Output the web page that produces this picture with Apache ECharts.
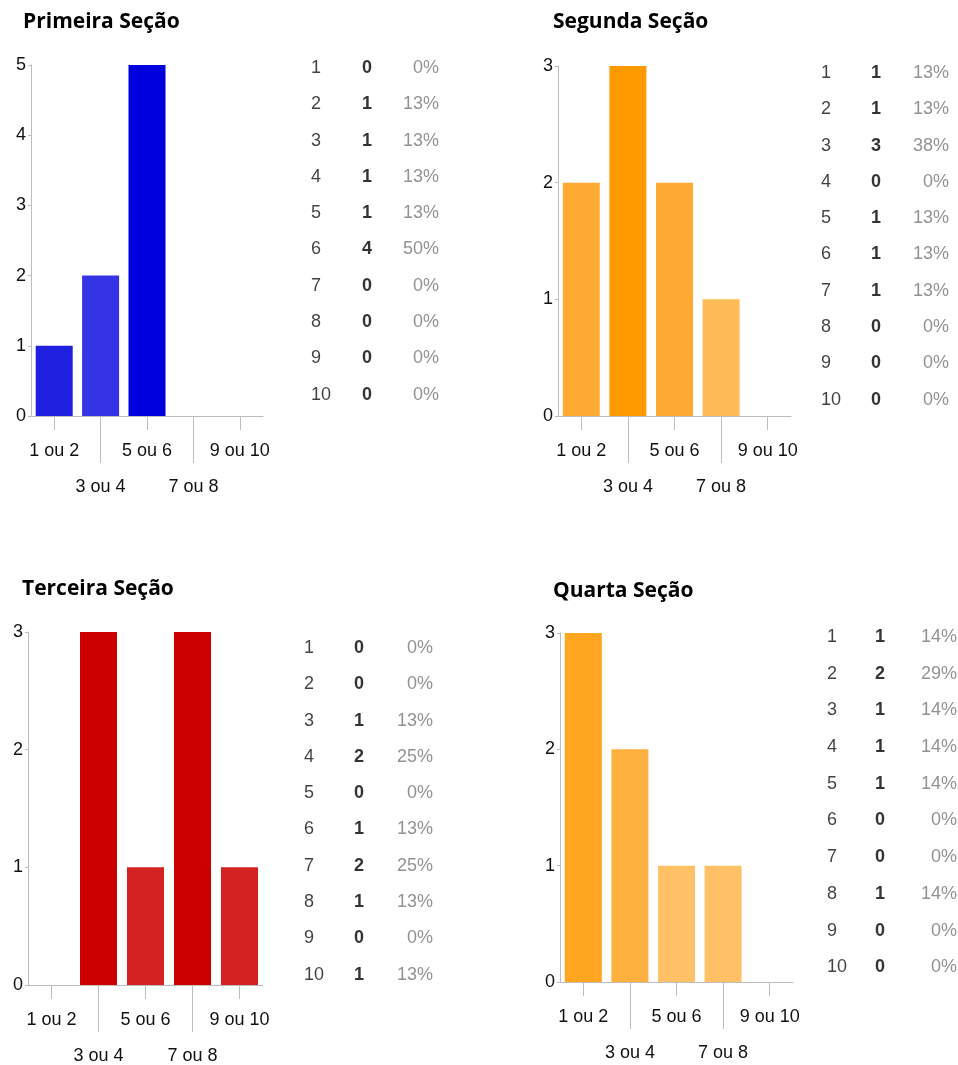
<!DOCTYPE html>
<html>
<head>
<meta charset="utf-8">
<title>Seções</title>
<script src="https://cdn.jsdelivr.net/npm/echarts@6/dist/echarts.min.js"></script>
<style>
  html, body { margin: 0; padding: 0; background: #fff; }
  #chart { width: 958px; height: 1065px; }
</style>
</head>
<body>
<div id="chart"></div>
<script>
// ---- data ----
const categories = ['1 ou 2', '3 ou 4', '5 ou 6', '7 ou 8', '9 ou 10'];
const scoreRows = ['1', '2', '3', '4', '5', '6', '7', '8', '9', '10'];

const titles = ['Primeira Seção', 'Segunda Seção', 'Terceira Seção', 'Quarta Seção'];

const bars1 = [1, 2, 5, 0, 0];
const bars2 = [2, 3, 2, 1, 0];
const bars3 = [0, 3, 1, 3, 1];
const bars4 = [3, 2, 1, 1, 0];

const counts1 = [0, 1, 1, 1, 1, 4, 0, 0, 0, 0];
const counts2 = [1, 1, 3, 0, 1, 1, 1, 0, 0, 0];
const counts3 = [0, 0, 1, 2, 0, 1, 2, 1, 0, 1];
const counts4 = [1, 2, 1, 1, 1, 0, 0, 1, 0, 0];

const pcts1 = ['0%', '13%', '13%', '13%', '13%', '50%', '0%', '0%', '0%', '0%'];
const pcts2 = ['13%', '13%', '38%', '0%', '13%', '13%', '13%', '0%', '0%', '0%'];
const pcts3 = ['0%', '0%', '13%', '25%', '0%', '13%', '25%', '13%', '0%', '13%'];
const pcts4 = ['14%', '29%', '14%', '14%', '14%', '0%', '0%', '14%', '0%', '0%'];

const yMax = [5, 3, 3, 3];

// ---- styling ----
const barColors = [
  ['#2020E0', '#3434E4', '#0000DE', '#0000DE', '#0000DE'],
  ['#FFAA33', '#FF9900', '#FFAA33', '#FFBB55', '#FFBB55'],
  ['#CC0000', '#CC0000', '#D42222', '#CC0000', '#D42222'],
  ['#FFA520', '#FFB140', '#FFC066', '#FFC066', '#FFC066']
];

const layout = [
  { tx: 23, ty: 12,  grid: { left: 31,  top: 65,  width: 232, height: 351 }, tab: { x0: 311, x1: 367, x2: 439, y0: 68,  dy: 36.3 } },
  { tx: 553, ty: 12, grid: { left: 558, top: 66,  width: 233, height: 350 }, tab: { x0: 821, x1: 876, x2: 949, y0: 73,  dy: 36.3 } },
  { tx: 22, ty: 579, grid: { left: 28,  top: 632, width: 235, height: 359 }, tab: { x0: 304, x1: 359, x2: 433, y0: 648, dy: 36.3 } },
  { tx: 553, ty: 581,grid: { left: 560, top: 633, width: 233, height: 349 }, tab: { x0: 827, x1: 880, x2: 957, y0: 637, dy: 36.7 } }
];

const FONT = "'Liberation Sans', Arial, Helvetica, sans-serif";
const AXIS_GREY = '#BDBDBD';
const TEXT = '#111';

const sections = [
  { bars: bars1, counts: counts1, pcts: pcts1 },
  { bars: bars2, counts: counts2, pcts: pcts2 },
  { bars: bars3, counts: counts3, pcts: pcts3 },
  { bars: bars4, counts: counts4, pcts: pcts4 }
];

const option = {
  animation: false,
  backgroundColor: '#fff',
  title: [], grid: [], xAxis: [], yAxis: [], series: []
};

sections.forEach((sec, k) => {
  const L = layout[k];
  const even = (i) => i % 2 === 0;
  const odd = (i) => i % 2 === 1;

  option.title.push({
    text: titles[k], left: L.tx, top: L.ty, padding: 0,
    textStyle: { fontFamily: "'Open Sans'", fontWeight: 'bold', fontSize: 21, color: '#000' }
  });

  // bar chart grid
  const gBar = option.grid.length;
  option.grid.push(L.grid);
  const xa = option.xAxis.length;
  // first label row (1 ou 2, 5 ou 6, 9 ou 10) with short ticks
  option.xAxis.push({
    type: 'category', gridIndex: gBar, data: categories, boundaryGap: true,
    axisLine: { show: true, lineStyle: { color: AXIS_GREY, width: 1 } },
    axisTick: { show: true, alignWithLabel: true, interval: even, length: 14, lineStyle: { color: AXIS_GREY } },
    axisLabel: { interval: even, margin: 26, fontFamily: FONT, fontSize: 18, color: TEXT },
    splitLine: { show: false }
  });
  // second, staggered label row (3 ou 4, 7 ou 8) with long ticks
  option.xAxis.push({
    type: 'category', gridIndex: gBar, data: categories, boundaryGap: true, position: 'bottom',
    axisLine: { show: false },
    axisTick: { show: true, alignWithLabel: true, interval: odd, length: 47, lineStyle: { color: AXIS_GREY } },
    axisLabel: { interval: odd, margin: 62, fontFamily: FONT, fontSize: 18, color: TEXT },
    splitLine: { show: false }
  });
  const ya = option.yAxis.length;
  option.yAxis.push({
    type: 'value', gridIndex: gBar, min: 0, max: yMax[k], interval: 1,
    axisLine: { show: true, lineStyle: { color: AXIS_GREY, width: 1 } },
    axisTick: { show: true, length: 3, lineStyle: { color: AXIS_GREY } },
    axisLabel: { margin: 5, fontFamily: FONT, fontSize: 18, color: TEXT },
    splitLine: { show: false }
  });
  option.series.push({
    type: 'bar', xAxisIndex: xa, yAxisIndex: ya, barWidth: 37,
    data: sec.bars.map((v, i) => ({ value: v, itemStyle: { color: barColors[k][i] } }))
  });

  // answer table: rows 1..10, columns score / count / percent
  const T = L.tab;
  const gTab = option.grid.length;
  option.grid.push({ left: T.x0, top: T.y0 - T.dy / 2, width: T.x2 - T.x0, height: T.dy * scoreRows.length });
  const txa = option.xAxis.length;
  option.xAxis.push({ type: 'category', gridIndex: gTab, data: ['score', 'count', 'pct'], boundaryGap: false, show: false });
  const tya = option.yAxis.length;
  option.yAxis.push({ type: 'category', gridIndex: gTab, data: scoreRows, inverse: true, boundaryGap: true, show: false });
  const countShift = T.x1 - (T.x0 + T.x2) / 2;

  const cell = (col, texts, style) => ({
    type: 'scatter', xAxisIndex: txa, yAxisIndex: tya, symbolSize: 0, silent: true,
    data: scoreRows.map((r) => [col, r]),
    label: Object.assign({
      show: true, position: 'inside', verticalAlign: 'middle',
      fontFamily: FONT, fontSize: 18,
      formatter: (p) => String(texts[p.dataIndex])
    }, style)
  });
  option.series.push(cell('score', scoreRows, { align: 'left', color: TEXT }));
  option.series.push(cell('count', sec.counts, { align: 'center', color: '#000', fontWeight: 'bold', offset: [countShift, 0] }));
  option.series.push(cell('pct', sec.pcts, { align: 'right', color: '#777' }));
});

const chart = echarts.init(document.getElementById('chart'), null, { renderer: 'canvas' });
chart.setOption(option);
</script>
</body>
</html>
